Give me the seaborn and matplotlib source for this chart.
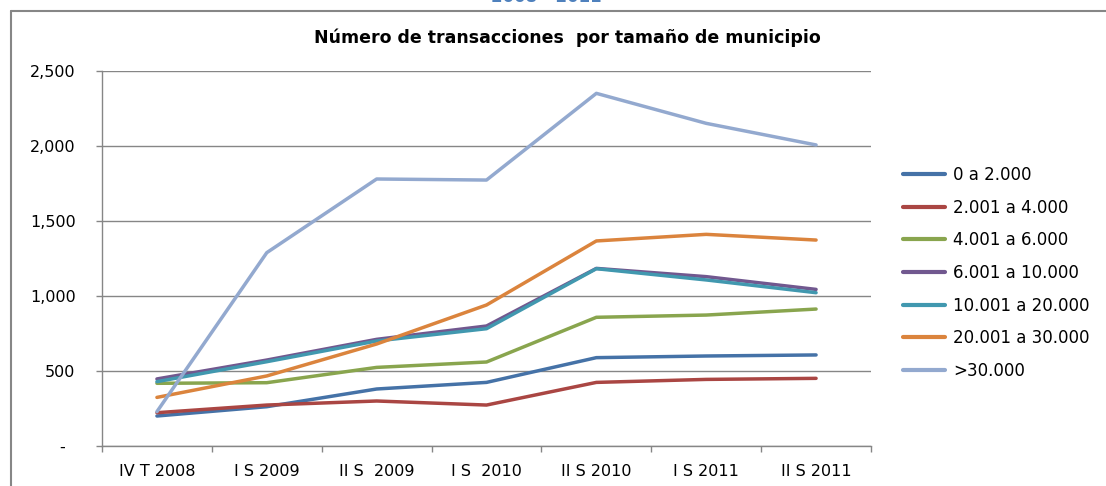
import pandas as pd
import numpy as np
import seaborn as sns
import matplotlib.pyplot as plt
from matplotlib.lines import Line2D
from matplotlib.ticker import FixedLocator

# periodos y series (numero de transacciones)
periodos = ['IV T 2008', 'I S 2009', 'II S  2009', 'I S  2010', 'II S 2010', 'I S 2011', 'II S 2011']
tamanos = ['0 a 2.000', '2.001 a 4.000', '4.001 a 6.000', '6.001 a 10.000',
           '10.001 a 20.000', '20.001 a 30.000', '>30.000']

s_0_2000 = [200, 262, 380, 424, 589, 600, 607]
s_2001_4000 = [222, 273, 300, 273, 424, 444, 451]
s_4001_6000 = [418, 422, 524, 560, 858, 873, 913]
s_6001_10000 = [447, 573, 711, 800, 1184, 1129, 1044]
s_10001_20000 = [429, 562, 700, 782, 1182, 1107, 1022]
s_20001_30000 = [324, 467, 680, 940, 1367, 1411, 1373]
s_30000 = [229, 1289, 1780, 1773, 2351, 2151, 2007]

colores = ['#4572A7', '#AA4643', '#89A54E', '#71588F', '#4198AF', '#DB843D', '#93A9CF']

series = [s_0_2000, s_2001_4000, s_4001_6000, s_6001_10000, s_10001_20000, s_20001_30000, s_30000]
filas = []
for nombre, valores in zip(tamanos, series):
    for p, v in zip(periodos, valores):
        filas.append({'Periodo': p, 'Tamano': nombre, 'Transacciones': v})
df = pd.DataFrame(filas)

sns.set_style('white')
plt.rcParams['font.family'] = ['DejaVu Sans']
plt.rcParams['text.color'] = 'black'
plt.rcParams['xtick.labelcolor'] = 'black'
plt.rcParams['ytick.labelcolor'] = 'black'

fig = plt.figure(figsize=(11.06, 4.86), dpi=100)
ax = fig.add_axes([102 / 1106, 1 - 446 / 486, (871 - 102) / 1106, (446 - 71) / 486])

sns.lineplot(data=df, x='Periodo', y='Transacciones', hue='Tamano', hue_order=tamanos,
             palette=colores, sort=False, linewidth=2.5, ax=ax, legend=False)

ax.set_xlim(-0.5, len(periodos) - 0.5)
ax.set_ylim(0, 2500)
ax.set_xlabel('')
ax.set_ylabel('')

yt = [0, 500, 1000, 1500, 2000, 2500]
ax.set_yticks(yt)
ax.set_yticklabels(['-  '] + [f'{v:,}' for v in yt[1:]], fontsize=11.5)
ax.set_xticks(range(len(periodos)))
ax.set_xticklabels(periodos, fontsize=11.5)
ax.xaxis.set_minor_locator(FixedLocator(np.arange(-0.5, len(periodos), 1.0)))
ax.tick_params(axis='x', which='major', length=0, pad=13)
ax.tick_params(axis='x', which='minor', length=4, color='#868686', width=1, direction='out')
ax.tick_params(axis='y', length=4, color='#868686', width=1, direction='out', pad=15)
ax.tick_params(axis='both', which='both', bottom=True, left=True)

ax.yaxis.grid(True, color='#868686', linewidth=1)
ax.set_axisbelow(True)
for lado in ['top', 'right']:
    ax.spines[lado].set_visible(False)
for lado in ['left', 'bottom']:
    ax.spines[lado].set_color('#868686')
    ax.spines[lado].set_linewidth(1)

# leyenda
handles = [Line2D([0], [0], color=c, lw=3) for c in colores]
fig.legend(handles, tamanos, loc='upper left', bbox_to_anchor=(903 / 1106, 1 - 166 / 486),
           frameon=False, fontsize=12, handlelength=2.5, handletextpad=0.5, labelspacing=0.88,
           borderaxespad=0, borderpad=0)

# titulo
fig.text(567 / 1106, 1 - 38 / 486, 'Número de transacciones  por tamaño de municipio',
         ha='center', va='center', fontsize=12.5, fontweight='bold', color='black')
fig.text(546 / 1106, 1 - 2 / 486, '2008 - 2011', ha='center', va='baseline',
         fontsize=12, fontweight='bold', color='#4F81BD')

# marco del grafico
fig.add_artist(Line2D([11 / 1106, 1.0], [1 - 11 / 486, 1 - 11 / 486], color='#868686', lw=1.5))
fig.add_artist(Line2D([11 / 1106, 11 / 1106], [0, 1 - 11 / 486], color='#868686', lw=1.5))

fig.savefig('out.png', dpi=100)
